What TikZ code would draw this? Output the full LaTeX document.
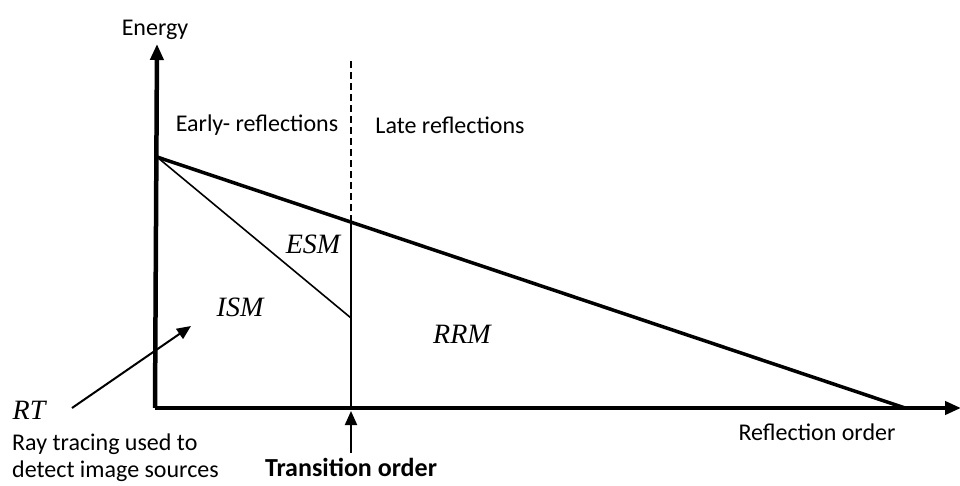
\documentclass[tikz,border=0pt]{standalone}
\usepackage{fontspec}
\setmainfont{Carlito}
\newfontfamily\serifit{Liberation Serif}
\usetikzlibrary{arrows.meta}
\begin{document}
\begin{tikzpicture}[x=1pt,y=-1pt,
  axisline/.style={line width=4.5pt,-{Triangle[length=16pt,width=13pt]}},
  thickline/.style={line width=3.5pt},
  thinline/.style={line width=1.6pt},
  lbl/.style={font=\fontsize{24}{27}\selectfont,inner sep=0pt},
  mlbl/.style={font=\fontsize{28}{30}\serifit\itshape,inner sep=0pt},
  pointer/.style={line width=2pt,-{Triangle[length=14pt,width=12pt]}}]
\useasboundingbox (0,0) rectangle (960,486);
\coordinate (Ytop) at (157,44);
\coordinate (Xend) at (961,408);
\coordinate (P) at (157,157);
\coordinate (Q) at (905,408);
\coordinate (T) at (351,222);
\coordinate (Tb) at (351,408);
\coordinate (Tt) at (351,60);
\coordinate (S) at (351,318);
\draw[axisline] (155,408) -- (Ytop);
\draw[axisline] (155,408) -- (Xend);
\draw[thickline] (P) -- (Q);
\draw[thinline] (P) -- (S);
\draw[thinline] (Tb) -- (T);
\draw[thinline,dashed,dash pattern=on 7pt off 4pt] (T) -- (Tt);
\node[lbl] (energy) at (155,30) {Energy};
\node[lbl] (early) at (257,125) {Early- reflections};
\node[lbl] (late) at (450,125) {Late reflections};
\node[mlbl] (esm) at (313,244) {ESM};
\node[mlbl] (ism) at (240,307) {ISM};
\node[mlbl] (rrm) at (462,334) {RRM};
\node[mlbl] (rt) at (29,410) {RT};
\coordinate (rtstart) at (72,408);
\coordinate (rttip) at (191,326);
\draw[pointer] (rtstart) -- (rttip);
\node[lbl,align=left,anchor=west] (raytext) at (12,458) {Ray tracing used to\\detect image sources};
\node[lbl,font=\fontsize{26}{28}\selectfont\bfseries] (trans) at (351,467) {Transition order};
\coordinate (transstart) at (351,453);
\draw[pointer] (transstart) -- (351,411);
\node[lbl] (reforder) at (817,432) {Reflection order};
\end{tikzpicture}
\end{document}
